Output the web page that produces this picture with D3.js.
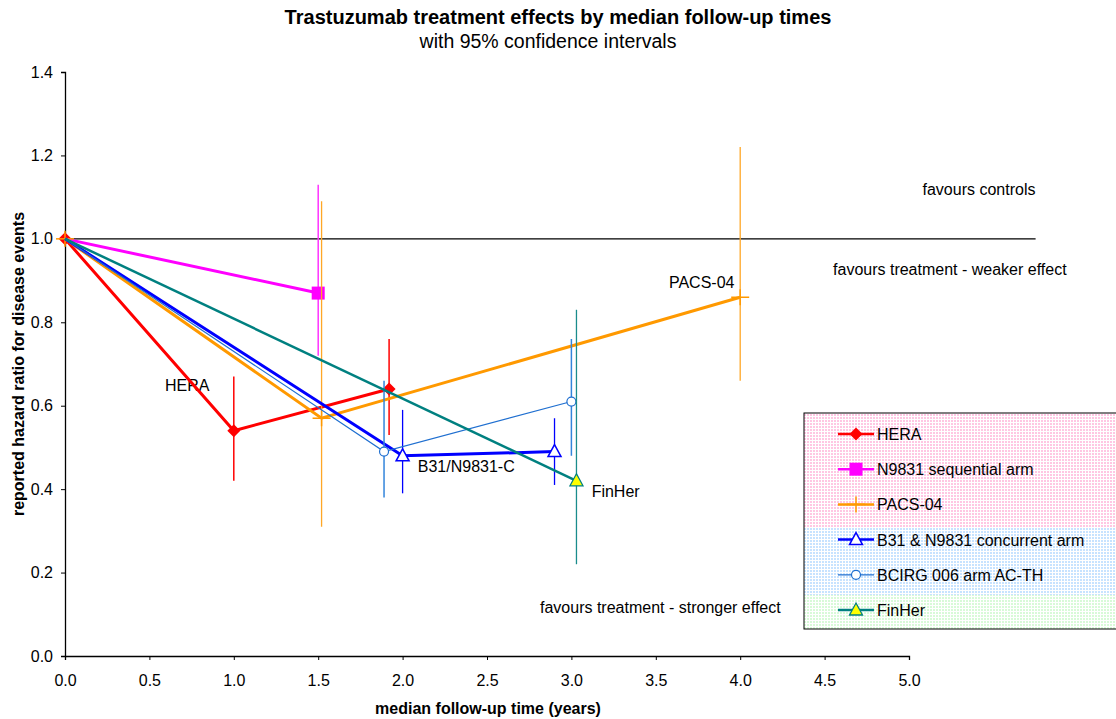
<!DOCTYPE html>
<html>
<head>
<meta charset="utf-8">
<script src="https://cdn.jsdelivr.net/npm/d3@7"></script>
<style>
  body { margin: 0; background: #fff; }
  svg { font-family: "Liberation Sans", Arial, sans-serif; }
</style>
</head>
<body>
<script>
const w = 1116
const h = 719

// series data: follow-up years, hazard ratio, 95% CI
const heraX = [0, 1.0, 1.92]
const heraY = [1, 0.54, 0.64]
const heraLo = [null, 0.42, 0.53]
const heraHi = [null, 0.67, 0.76]

const n9831X = [0, 1.5]
const n9831Y = [1, 0.87]
const n9831Lo = [null, 0.72]
const n9831Hi = [null, 1.13]

const pacsX = [0, 1.52, 4.0]
const pacsY = [1, 0.57, 0.86]
const pacsLo = [null, 0.31, 0.66]
const pacsHi = [null, 1.09, 1.22]

const b31X = [0, 2.0, 2.9]
const b31Y = [1, 0.48, 0.49]
const b31Lo = [null, 0.39, 0.41]
const b31Hi = [null, 0.59, 0.57]

const bcirgX = [0, 1.89, 3.0]
const bcirgY = [1, 0.49, 0.61]
const bcirgLo = [null, 0.38, 0.48]
const bcirgHi = [null, 0.66, 0.76]

const finherX = [0, 3.03]
const finherY = [1, 0.42]
const finherLo = [null, 0.22]
const finherHi = [null, 0.83]

const seriesNames = ["HERA", "N9831 sequential arm", "PACS-04", "B31 & N9831 concurrent arm", "BCIRG 006 arm AC-TH", "FinHer"]

const xTicks = [0, 0.5, 1, 1.5, 2, 2.5, 3, 3.5, 4, 4.5, 5]
const yTicks = [0, 0.2, 0.4, 0.6, 0.8, 1.0, 1.2, 1.4]

// text notes on the plot
const noteX = [5.08, 4.55, 2.814, 3.578, 0.592, 2.09, 3.12]
const noteY = [1.105, 0.914, 0.103, 0.882, 0.635, 0.441, 0.381]
const noteText = ["favours controls", "favours treatment - weaker effect", "favours treatment - stronger effect",
    "PACS-04", "HERA", "B31/N9831-C", "FinHer"]

const refLine = [0, 5.75] // hazard ratio 1.0 line extent

const styles = [
    { color: "#ff0000", width: 3, ebColor: "#ff0000", ebWidth: 1.5, marker: "diamond", origin: true },
    { color: "#ff00ff", width: 3, ebColor: "#ff33ff", ebWidth: 1.5, marker: "square", origin: false },
    { color: "#ff9900", width: 3, ebColor: "#ffa726", ebWidth: 1.3, marker: "plus", origin: true },
    { color: "#0000ff", width: 3, ebColor: "#0000ff", ebWidth: 1.3, marker: "triangle", origin: false },
    { color: "#1f6fd0", width: 1.2, ebColor: "#3385db", ebWidth: 1.5, marker: "circle", origin: false },
    { color: "#008080", width: 2.5, ebColor: "#1a8c8c", ebWidth: 1.3, marker: "ytriangle", origin: false }
]

const seriesX = [heraX, n9831X, pacsX, b31X, bcirgX, finherX]
const seriesY = [heraY, n9831Y, pacsY, b31Y, bcirgY, finherY]
const seriesLo = [heraLo, n9831Lo, pacsLo, b31Lo, bcirgLo, finherLo]
const seriesHi = [heraHi, n9831Hi, pacsHi, b31Hi, bcirgHi, finherHi]

const svg = d3.select("body").append("svg")
    .attr("width", w).attr("height", h)

const x = d3.scaleLinear().domain([0, 5]).range([65, 909])
const y = d3.scaleLinear().domain([0, 1.4]).range([656, 72])

// legend patterns
const defs = svg.append("defs")
const pats = [["pinkDots", "#ff99cc"], ["blueDots", "#99ccff"], ["greenDots", "#b8f5b8"]]
pats.forEach(p => {
    const pt = defs.append("pattern").attr("id", p[0])
        .attr("width", 3).attr("height", 3).attr("patternUnits", "userSpaceOnUse")
    pt.append("rect").attr("width", 3).attr("height", 3).attr("fill", "#fff")
    pt.append("rect").attr("width", 2).attr("height", 2).attr("fill", p[1]).attr("opacity", 0.55)
})

// title
svg.append("text").attr("x", 558).attr("y", 24).attr("text-anchor", "middle")
    .attr("font-size", "20px").attr("font-weight", "bold")
    .text("Trastuzumab treatment effects by median follow-up times")
svg.append("text").attr("x", 548).attr("y", 48).attr("text-anchor", "middle")
    .attr("font-size", "19.5px")
    .text("with 95% confidence intervals")

// axes
const xAxis = svg.append("g").attr("transform", `translate(0,${y(0)})`)
    .call(d3.axisBottom(x).tickValues(xTicks).tickFormat(d3.format(".1f")).tickSize(4).tickPadding(15))
const yAxis = svg.append("g").attr("transform", `translate(${x(0)},0)`)
    .call(d3.axisLeft(y).tickValues(yTicks).tickFormat(d3.format(".1f")).tickSize(4).tickPadding(8))
;[xAxis, yAxis].forEach(a => {
    a.select(".domain").attr("stroke", "#000").attr("stroke-width", 1.3)
    a.selectAll(".tick line").attr("stroke", "#000")
    a.selectAll("text").attr("font-size", "16px").attr("fill", "#000")
        .attr("font-family", "'Liberation Sans', Arial, sans-serif")
})

svg.append("text").attr("x", 488).attr("y", 714).attr("text-anchor", "middle")
    .attr("font-size", "16px").attr("font-weight", "bold")
    .text("median follow-up time (years)")
svg.append("text").attr("transform", `translate(24,${y(0.7)}) rotate(-90)`)
    .attr("text-anchor", "middle").attr("font-size", "16px").attr("font-weight", "bold")
    .text("reported hazard ratio for disease events")

// reference line at 1.0
svg.append("line")
    .attr("x1", x(refLine[0])).attr("x2", x(refLine[1]))
    .attr("y1", y(1)).attr("y2", y(1))
    .attr("stroke", "#000").attr("stroke-width", 1.2)

// notes
noteText.forEach((t, i) => {
    svg.append("text").attr("x", x(noteX[i])).attr("y", y(noteY[i]))
        .attr("font-size", "16px").text(t)
})

const drawMarker = (g, type, cx, cy, st) => {
    if (type === "diamond") {
        g.append("path").attr("d", `M${cx},${cy - 6.5}L${cx + 6.5},${cy}L${cx},${cy + 6.5}L${cx - 6.5},${cy}Z`)
            .attr("fill", st.color)
    } else if (type === "square") {
        g.append("rect").attr("x", cx - 6.5).attr("y", cy - 6.5).attr("width", 13).attr("height", 13)
            .attr("fill", st.color)
    } else if (type === "plus") {
        g.append("line").attr("x1", cx - 9).attr("x2", cx + 9).attr("y1", cy).attr("y2", cy)
            .attr("stroke", st.color).attr("stroke-width", 1.5)
        g.append("line").attr("x1", cx).attr("x2", cx).attr("y1", cy - 8).attr("y2", cy + 8)
            .attr("stroke", st.color).attr("stroke-width", 1.5)
    } else if (type === "triangle") {
        g.append("path").attr("d", `M${cx},${cy - 7}L${cx + 6.5},${cy + 5}L${cx - 6.5},${cy + 5}Z`)
            .attr("fill", "#fff").attr("stroke", st.color).attr("stroke-width", 1.5)
    } else if (type === "circle") {
        g.append("circle").attr("cx", cx).attr("cy", cy).attr("r", 4.5)
            .attr("fill", "#fff").attr("stroke", st.color).attr("stroke-width", 1.2)
    } else if (type === "ytriangle") {
        g.append("path").attr("d", `M${cx},${cy - 7}L${cx + 6.5},${cy + 5}L${cx - 6.5},${cy + 5}Z`)
            .attr("fill", "#ffff00").attr("stroke", st.color).attr("stroke-width", 1.3)
    }
}

const line = d3.line().x(d => x(d[0])).y(d => y(d[1]))

seriesX.forEach((xs, s) => {
    const st = styles[s]
    const g = svg.append("g")
    const pts = xs.map((v, i) => [v, seriesY[s][i]])
    g.append("path").datum(pts).attr("d", line)
        .attr("fill", "none").attr("stroke", st.color).attr("stroke-width", st.width)
        .attr("stroke-linejoin", "miter")
    // error bars
    xs.forEach((v, i) => {
        if (seriesLo[s][i] == null) return
        g.append("line").attr("x1", x(v)).attr("x2", x(v))
            .attr("y1", y(seriesLo[s][i])).attr("y2", y(seriesHi[s][i]))
            .attr("stroke", st.ebColor).attr("stroke-width", st.ebWidth)
    })
    xs.forEach((v, i) => {
        if (i === 0 && !st.origin) return
        drawMarker(g, st.marker, x(v), y(seriesY[s][i]), st)
    })
})

// legend
const lg = svg.append("g")
const lx = 804, ly = 413
lg.append("rect").attr("x", lx).attr("y", ly).attr("width", 320).attr("height", 114).attr("fill", "url(#pinkDots)")
lg.append("rect").attr("x", lx).attr("y", ly + 114).attr("width", 320).attr("height", 68).attr("fill", "url(#blueDots)")
lg.append("rect").attr("x", lx).attr("y", ly + 182).attr("width", 320).attr("height", 34).attr("fill", "url(#greenDots)")
lg.append("rect").attr("x", lx).attr("y", ly).attr("width", 320).attr("height", 216)
    .attr("fill", "none").attr("stroke", "#000").attr("stroke-width", 1)

seriesNames.forEach((name, i) => {
    const st = styles[i]
    const cy = ly + 21 + i * 35.2
    lg.append("line").attr("x1", lx + 34).attr("x2", lx + 70).attr("y1", cy).attr("y2", cy)
        .attr("stroke", st.color).attr("stroke-width", Math.min(st.width, 2.5))
    drawMarker(lg, st.marker, lx + 52, cy, st)
    lg.append("text").attr("x", lx + 73).attr("y", cy + 6).attr("font-size", "16px").text(name)
})
</script>
</body>
</html>
